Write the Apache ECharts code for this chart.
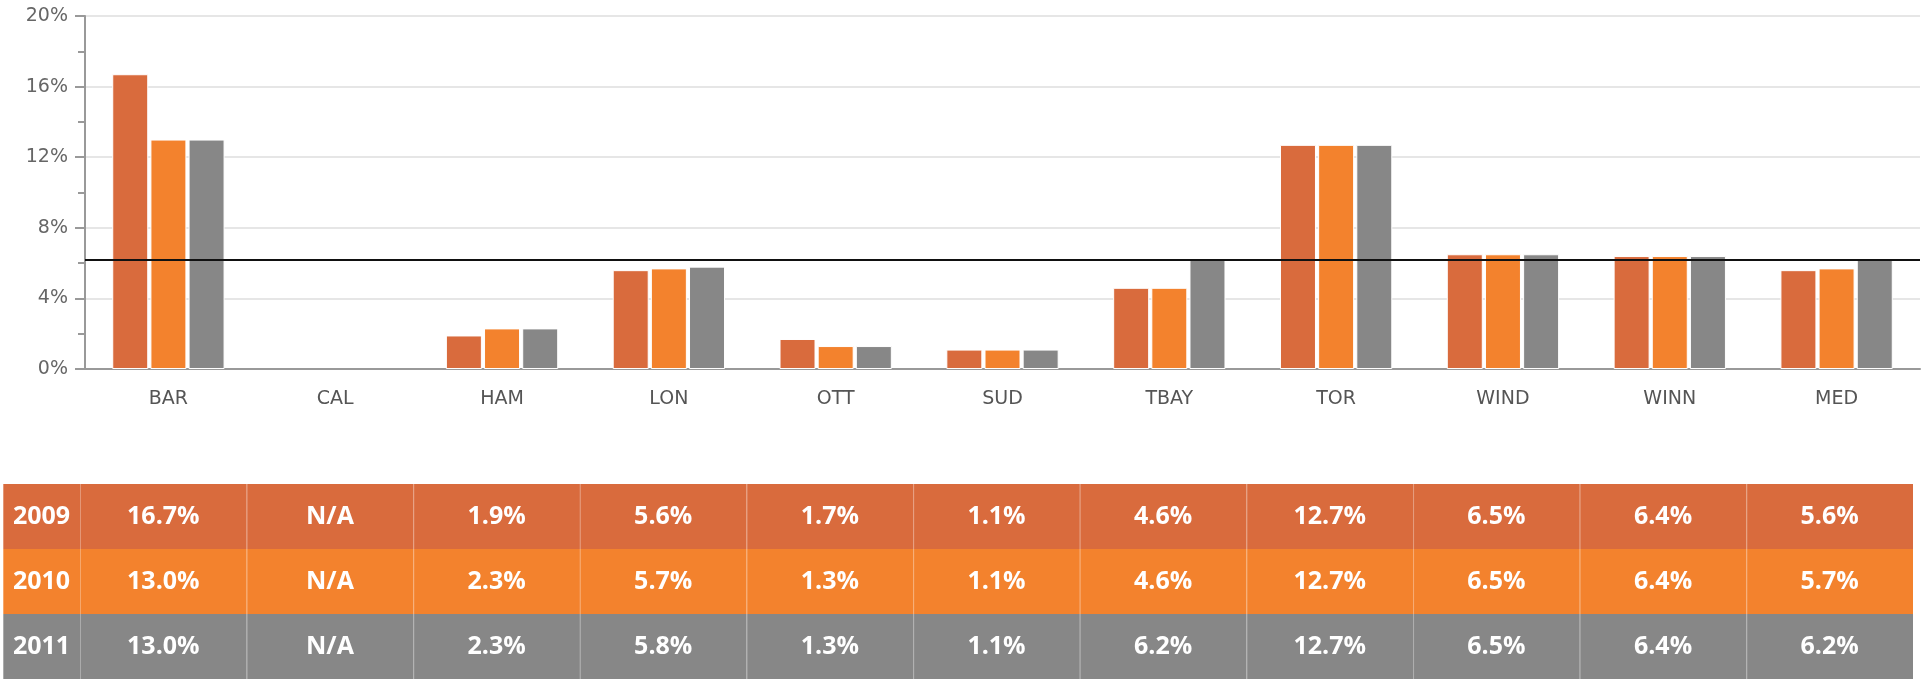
<!DOCTYPE html>
<html>
<head>
<meta charset="utf-8">
<script src="https://cdn.jsdelivr.net/npm/echarts@6/dist/echarts.min.js"></script>
<style>
html,body{margin:0;padding:0;background:#fff;}
#chart{width:1930px;height:679px;}
</style>
</head>
<body>
<div id="chart"></div>
<script>
// ---- data ----
const cities = ['BAR','CAL','HAM','LON','OTT','SUD','TBAY','TOR','WIND','WINN','MED'];
const years = ['2009','2010','2011'];
const values2009 = [16.7, null, 1.9, 5.6, 1.7, 1.1, 4.6, 12.7, 6.5, 6.4, 5.6];
const values2010 = [13.0, null, 2.3, 5.7, 1.3, 1.1, 4.6, 12.7, 6.5, 6.4, 5.7];
const values2011 = [13.0, null, 2.3, 5.8, 1.3, 1.1, 6.2, 12.7, 6.5, 6.4, 6.2];
const referenceLine = 6.2;
const yTicks = [0, 4, 8, 12, 16, 20];

const seriesValues = [values2009, values2010, values2011];
const colors = ['#D96B3D', '#F3822D', '#878787'];

// table cells built from the arrays
const tableCells = [];
seriesValues.forEach((vals, r) => {
  vals.forEach((v, c) => {
    tableCells.push([c, r, v == null ? 'N/A' : v.toFixed(1) + '%']);
  });
});
const yearCells = years.map((y, r) => [0, r, y]);

function cellRenderer(params, api) {
  const x = api.value(0), y = api.value(1);
  const c = api.coord([x, y]);
  const s = api.size([1, 1]);
  const left = c[0] - s[0] / 2, top = c[1] - s[1] / 2;
  const row = y;
  return {
    type: 'group',
    children: [
      { type: 'rect', shape: { x: left, y: top, width: s[0], height: s[1] },
        style: { fill: colors[row] } },
      { type: 'line', shape: { x1: left + 0.5, y1: top, x2: left + 0.5, y2: top + s[1] },
        style: { stroke: 'rgba(255,255,255,0.3)', lineWidth: 1 } },
      { type: 'text', x: c[0], y: c[1],
        style: { text: api.value(2), fill: '#fff', align: 'center', verticalAlign: 'middle',
                 font: 'bold 25px "Open Sans", sans-serif' } }
    ]
  };
}

const chart = echarts.init(document.getElementById('chart'), null, { renderer: 'canvas' });
const labelFont = 'DejaVu Sans';

chart.setOption({
  animation: false,
  backgroundColor: '#fff',
  grid: [
    { left: 85, right: 10, top: 16, height: 353 },
    { left: 3, width: 77, top: 484, height: 200 },
    { left: 80, width: 1833, top: 484, height: 200 }
  ],
  xAxis: [
    { type: 'category', gridIndex: 0, data: cities,
      axisLine: { lineStyle: { color: '#999', width: 2 } },
      axisTick: { show: false },
      axisLabel: { color: '#555', fontSize: 19, fontFamily: labelFont, margin: 21 } },
    { type: 'category', gridIndex: 1, data: [''], show: false },
    { type: 'category', gridIndex: 2, data: cities, show: false }
  ],
  yAxis: [
    { type: 'value', gridIndex: 0, min: yTicks[0], max: yTicks[yTicks.length - 1], interval: 4,
      axisLine: { show: true, lineStyle: { color: '#999', width: 2 } },
      axisTick: { show: true, length: 10, lineStyle: { color: '#999', width: 2 } },
      minorTick: { show: true, splitNumber: 2, length: 7, lineStyle: { color: '#999', width: 2 } },
      splitLine: { lineStyle: { color: '#e6e6e6', width: 2 } },
      axisLabel: { color: '#666', fontSize: 19, fontFamily: labelFont, margin: 17,
                   formatter: '{value}%' } },
    { type: 'category', gridIndex: 1, data: years, inverse: true, show: false },
    { type: 'category', gridIndex: 2, data: years, inverse: true, show: false }
  ],
  series: [
    ...seriesValues.map((vals, i) => ({
      name: years[i], type: 'bar', xAxisIndex: 0, yAxisIndex: 0,
      data: vals, barWidth: 36, barGap: '6%',
      itemStyle: { color: colors[i], borderColor: '#fff', borderWidth: 1 },
      markLine: i === 2 ? {
        silent: true, symbol: ['none', 'none'], label: { show: false },
        lineStyle: { color: '#111', width: 2, type: 'solid' },
        data: [{ yAxis: referenceLine }]
      } : undefined
    })),
    { type: 'custom', xAxisIndex: 1, yAxisIndex: 1, data: yearCells, renderItem: cellRenderer,
      encode: { x: 0, y: 1 } },
    { type: 'custom', xAxisIndex: 2, yAxisIndex: 2, data: tableCells, renderItem: cellRenderer,
      encode: { x: 0, y: 1 } }
  ]
});
</script>
</body>
</html>
